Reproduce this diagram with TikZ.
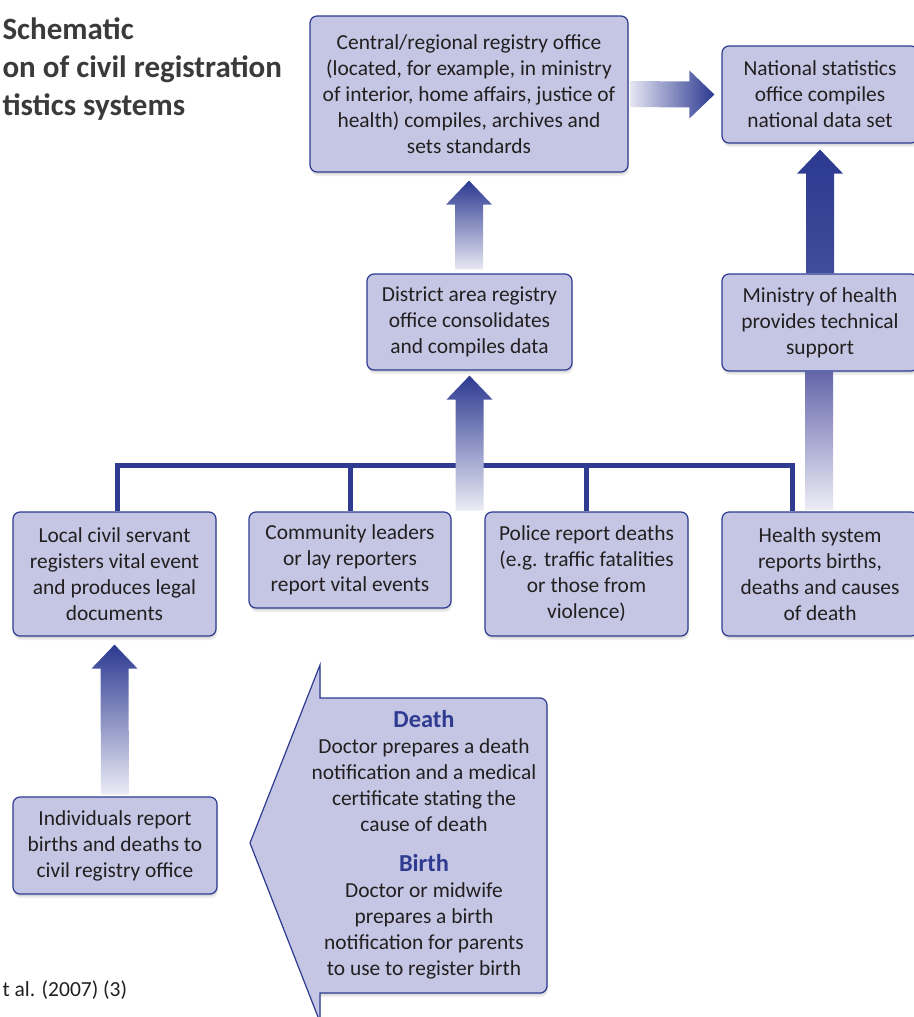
\documentclass[tikz,border=0pt]{standalone}
\usepackage{fontspec}
\setmainfont{Carlito}
\usetikzlibrary{calc,shadows}
\definecolor{bfill}{HTML}{C5C6E4}
\definecolor{bord}{HTML}{2E3B91}
\definecolor{darkarr}{HTML}{2B3990}
\definecolor{midarr}{HTML}{6466AA}
\definecolor{lightarr}{HTML}{ECECF6}
\definecolor{txt}{HTML}{231F20}
\definecolor{ttl}{HTML}{3A3A3A}
\begin{document}
\begin{tikzpicture}[x=1pt,y=-1pt,
  softshadow/.style={drop shadow={shadow xshift=1pt,shadow yshift=-4pt,opacity=.07,fill=black},
                     drop shadow={shadow xshift=0.5pt,shadow yshift=-2pt,opacity=.09,fill=black}},
  box/.style={draw=bord, line width=1.2pt, fill=bfill, rounded corners=7pt, align=center,
              text=txt, font=\fontsize{21.4}{26}\selectfont, inner sep=0pt, softshadow},
  busline/.style={draw=bord, line width=5pt, line join=miter}]
\useasboundingbox (0,0) rectangle (913,1017);

% title and source
\node[anchor=west, align=left, text=ttl, font=\fontsize{31}{38}\selectfont\bfseries] (title) at (-1,69)
  {Schematic\\on of civil registration\\tistics systems};
\node[anchor=west, text=txt, font=\fontsize{21.5}{26}\selectfont] (source) at (-1,990) {t al. (2007) (3)};

% boxes
\node[box, minimum width=318pt, minimum height=156pt] (central) at (469,94)
  {Central/regional registry office\\(located, for example, in ministry\\of interior, home affairs, justice of\\health) compiles, archives and\\sets standards};
\node[box, minimum width=196pt, minimum height=97pt] (national) at (820,94.5)
  {National statistics\\office compiles\\national data set};
\node[box, minimum width=205pt, minimum height=96pt] (district) at (469.5,322)
  {District area registry\\office consolidates\\and compiles data};
\node[box, minimum width=196pt, minimum height=97pt] (ministry) at (820,322.5)
  {Ministry of health\\provides technical\\support};
\node[box, minimum width=203pt, minimum height=124pt] (local) at (114.5,574)
  {Local civil servant\\registers vital event\\and produces legal\\documents};
\node[box, minimum width=202pt, minimum height=96pt] (community) at (350,560)
  {Community leaders\\or lay reporters\\report vital events};
\node[box, minimum width=203pt, minimum height=124pt] (police) at (586.5,574)
  {Police report deaths\\(e.g. traffic fatalities\\or those from\\violence)};
\node[box, minimum width=196pt, minimum height=124pt] (health) at (820,574)
  {Health system\\reports births,\\deaths and causes\\of death};
\node[box, minimum width=204pt, minimum height=97pt] (indiv) at (115,845.5)
  {Individuals report\\births and deaths to\\civil registry office};

% bus
\coordinate (busL) at (117,465);
\coordinate (busR) at (792,465);
\draw[busline] (local.north -| busL) -- (busL) -- (busR) -- (busR |- health.north);
\draw[busline] (community.north |- busL) -- (community.north);
\draw[busline] (police.north |- busL) -- (police.north);

% bus -> district
\path[top color=darkarr, bottom color=lightarr]
  ($(district.south)+(-14,140)$) -- ($(district.south)+(-14,29)$) -- ($(district.south)+(-23,29)$)
  -- ($(district.south)+(0,5)$) -- ($(district.south)+(23,29)$) -- ($(district.south)+(14,29)$)
  -- ($(district.south)+(14,140)$) -- cycle;

% district -> central
\path[top color=darkarr, bottom color=lightarr!90!bfill]
  ($(central.south |- district.north)+(-14,-4)$) -- ($(central.south)+(-14,32)$) -- ($(central.south)+(-23,32)$)
  -- ($(central.south)+(0,8)$) -- ($(central.south)+(23,32)$) -- ($(central.south)+(14,32)$)
  -- ($(central.south |- district.north)+(14,-4)$) -- cycle;

% central -> national
\path[left color=lightarr!80!bfill, right color=darkarr]
  ($(central.east)+(2,-13)$) -- ($(national.west)+(-32,-13)$) -- ($(national.west)+(-32,-24)$)
  -- ($(national.west)+(-7,0)$) -- ($(national.west)+(-32,24)$) -- ($(national.west)+(-32,13)$)
  -- ($(central.east)+(2,13)$) -- cycle;

% ministry -> national
\path[top color=darkarr, bottom color=darkarr!90!white]
  ($(ministry.north)+(-14,0)$) -- ($(national.south)+(-14,30)$) -- ($(national.south)+(-23,30)$)
  -- ($(national.south)+(0,6)$) -- ($(national.south)+(23,30)$) -- ($(national.south)+(14,30)$)
  -- ($(ministry.north)+(14,0)$) -- cycle;

% health -> ministry (shaft)
\path[top color=midarr, bottom color=lightarr]
  ($(ministry.south)+(-15,0)$) -- ($(ministry.south)+(13,0)$)
  -- ($(ministry.south |- health.north)+(13,-2)$) -- ($(ministry.south |- health.north)+(-15,-2)$) -- cycle;

% individuals -> local
\path[top color=darkarr, bottom color=lightarr]
  ($(indiv.north)+(-14,-2)$) -- ($(local.south)+(-14,32)$) -- ($(local.south)+(-23,32)$)
  -- ($(local.south)+(0,8)$) -- ($(local.south)+(23,32)$) -- ($(local.south)+(14,32)$)
  -- ($(indiv.north)+(14,-2)$) -- cycle;

% doctor pentagon arrow
\path[draw=bord, line width=1.2pt, fill=bfill, line join=miter, softshadow]
  (250,843) -- (320,665) -- (320,698) -- (540,698) to[out=0,in=90] (547,705)
  -- (547,986) to[out=270,in=0] (540,993) -- (320,993) -- (320,1022) -- cycle;
\node[align=center, text=txt, font=\fontsize{21.4}{26}\selectfont, inner sep=0pt] (doctor) at (424,845)
  {{\color{bord}\fontsize{24.4}{26}\selectfont\bfseries Death}\\
   Doctor prepares a death\\notification and a medical\\certificate stating the\\cause of death\\[14pt]
   {\color{bord}\fontsize{24.4}{26}\selectfont\bfseries Birth}\\
   Doctor or midwife\\prepares a birth\\notification for parents\\to use to register birth};
\end{tikzpicture}
\end{document}
